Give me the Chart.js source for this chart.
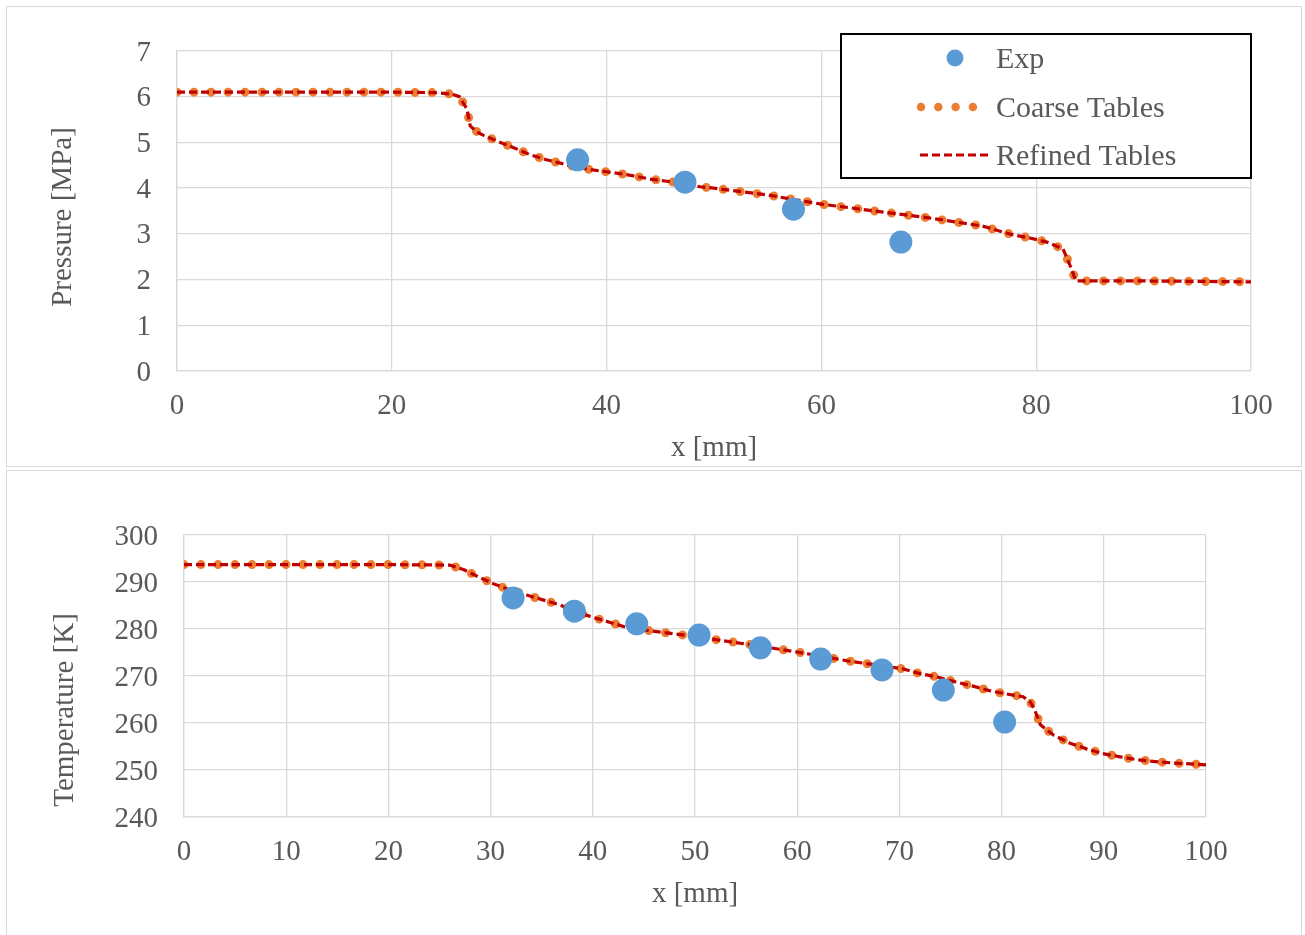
<!DOCTYPE html>
<html>
<head>
<meta charset="utf-8">
<script src="https://cdn.jsdelivr.net/npm/chart.js@4.4.0/dist/chart.umd.min.js"></script>
<style>
  body { margin: 0; background: #fff; overflow: hidden; }
  .frame { position: absolute; left: 6px; width: 1294px; border: 1px solid #d9d9d9; background: #fff; }
  #f1 { top: 6px; height: 459px; }
  #f2 { top: 470px; height: 470px; }
  canvas { display: block; }
</style>
</head>
<body>
<div class="frame" id="f1"><canvas id="pChart" width="1294" height="459"></canvas></div>
<div class="frame" id="f2"><canvas id="tChart" width="1294" height="464"></canvas></div>
<script>
// ---- pressure profile (x [mm], P [MPa]) ----
const pX       = [0, 5, 10, 15, 20, 24, 25.5, 26.3, 27.0, 27.3, 28.0, 28.5, 29.8, 31.4, 32.9, 34.4, 36.0, 37.5, 39.3, 40.9, 42.5, 44.0, 45.6, 47.2, 48.7, 50, 55, 60, 65, 70, 75, 77.8, 79.4, 81.0, 82.5, 83.1, 83.7, 85.2, 90, 95, 100];
const pCoarse  = [6.10, 6.10, 6.10, 6.10, 6.10, 6.09, 6.06, 6.00, 5.73, 5.36, 5.22, 5.16, 5.03, 4.88, 4.73, 4.62, 4.53, 4.44, 4.38, 4.33, 4.27, 4.20, 4.15, 4.10, 4.03, 4.00, 3.85, 3.65, 3.50, 3.35, 3.17, 2.98, 2.91, 2.82, 2.67, 2.34, 1.97, 1.97, 1.97, 1.96, 1.95];
const pRefined = [6.10, 6.10, 6.10, 6.10, 6.10, 6.09, 6.06, 6.00, 5.73, 5.36, 5.22, 5.16, 5.03, 4.88, 4.73, 4.62, 4.53, 4.44, 4.38, 4.33, 4.27, 4.20, 4.15, 4.10, 4.03, 4.00, 3.85, 3.65, 3.50, 3.35, 3.17, 2.98, 2.91, 2.82, 2.67, 2.34, 1.97, 1.97, 1.97, 1.96, 1.95];
const pExpX    = [37.3, 47.3, 57.4, 67.4];
const pExpY    = [4.62, 4.13, 3.54, 2.82];

// ---- temperature profile (x [mm], T [K]) ----
const tX       = [0, 10, 20, 26.0, 27.4, 28.8, 30.3, 31.9, 33.6, 35.1, 36.8, 38.4, 40.0, 41.7, 43.2, 45, 50, 55, 60, 65, 70.4, 72.0, 73.7, 75.4, 77.1, 78.8, 80.4, 82.1, 82.8, 83.2, 83.8, 85.1, 86.7, 88.3, 89.9, 91.6, 93.2, 95.0, 96.7, 98.4, 100];
const tCoarse  = [293.7, 293.7, 293.7, 293.6, 292.6, 291.1, 289.6, 288.3, 287.2, 286.2, 285.1, 283.6, 282.5, 281.4, 280.4, 279.8, 278.4, 276.8, 275.1, 273.2, 271.5, 270.5, 269.8, 268.8, 267.9, 266.9, 266.2, 265.6, 264.5, 263.0, 259.6, 257.4, 255.7, 254.5, 253.5, 252.8, 252.2, 251.8, 251.5, 251.3, 251.1];
const tRefined = [293.7, 293.7, 293.7, 293.6, 292.6, 291.1, 289.6, 288.3, 287.2, 286.2, 285.1, 283.6, 282.5, 281.4, 280.4, 279.8, 278.4, 276.8, 275.1, 273.2, 271.5, 270.5, 269.8, 268.8, 267.9, 266.9, 266.2, 265.6, 264.5, 263.0, 259.6, 257.4, 255.7, 254.5, 253.5, 252.8, 252.2, 251.8, 251.5, 251.3, 251.1];
const tExpX    = [32.2, 38.2, 44.3, 50.4, 56.4, 62.3, 68.3, 74.3, 80.3];
const tExpY    = [286.6, 283.8, 281.1, 278.7, 276.0, 273.6, 271.3, 267.0, 260.2];

const SERIES = ["Exp", "Coarse Tables", "Refined Tables"];

const FONT = "'Liberation Serif', 'Times New Roman', serif";
const TXT = "#595959";
const GRID = "#d9d9d9";

const pts = (xs, ys) => xs.map((x, i) => ({ x: x, y: ys[i] }));

function makeDatasets(x, coarse, refined, ex, ey) {
  return [
    { label: SERIES[0], data: pts(ex, ey), showLine: false, pointRadius: 11.5, pointHoverRadius: 11.5,
      backgroundColor: "#5B9BD5", borderWidth: 0, order: 0 },
    { label: SERIES[1], data: pts(x, coarse), showLine: true, pointRadius: 0, borderColor: "#ED7D31",
      borderWidth: 9, borderDash: [0, 17], borderCapStyle: "round", fill: false, order: 2 },
    { label: SERIES[2], data: pts(x, refined), showLine: true, pointRadius: 0, borderColor: "#C00000",
      borderWidth: 3.2, borderDash: [8, 4], fill: false, order: 1 },
  ];
}

// legend box drawn on the canvas, styled from the datasets
const boxLegend = {
  id: "boxLegend",
  afterDatasetsDraw(chart) {
    const ctx = chart.ctx, ds = chart.data.datasets;
    const r = chart.chartArea.right;
    const bx = r - 410, by = 27, bw = 410, bh = 144;
    ctx.save();
    ctx.fillStyle = "#fff";
    ctx.fillRect(bx, by, bw, bh);
    ctx.strokeStyle = "#000";
    ctx.lineWidth = 2;
    ctx.strokeRect(bx, by, bw, bh);
    const tx = bx + 155, rows = [by + 24, by + 73, by + 121];
    // Exp
    ctx.fillStyle = ds[0].backgroundColor;
    ctx.beginPath(); ctx.arc(bx + 114, rows[0], 8.5, 0, Math.PI * 2); ctx.fill();
    // Coarse
    ctx.strokeStyle = ds[1].borderColor;
    ctx.lineWidth = 8.5; ctx.lineCap = "round"; ctx.setLineDash([0, 17.3]);
    ctx.beginPath(); ctx.moveTo(bx + 80, rows[1]); ctx.lineTo(bx + 133, rows[1]); ctx.stroke();
    // Refined
    ctx.strokeStyle = ds[2].borderColor;
    ctx.lineWidth = 3.2; ctx.lineCap = "butt"; ctx.setLineDash([8, 4]);
    ctx.beginPath(); ctx.moveTo(bx + 79, rows[2]); ctx.lineTo(bx + 150, rows[2]); ctx.stroke();
    ctx.setLineDash([]);
    ctx.fillStyle = TXT;
    ctx.font = "30px " + FONT;
    ctx.textBaseline = "middle";
    ctx.textAlign = "left";
    ds.forEach((d, i) => ctx.fillText(d.label, tx, rows[i] + 2));
    ctx.restore();
  }
};

// y-axis title, placed like the original (not centred on the plot area)
const yTitle = {
  id: "yTitle",
  afterDraw(chart, args, opts) {
    const ctx = chart.ctx;
    ctx.save();
    ctx.translate(opts.x, opts.y);
    ctx.rotate(-Math.PI / 2);
    ctx.fillStyle = TXT;
    ctx.font = "29px " + FONT;
    ctx.textAlign = "center";
    ctx.textBaseline = "middle";
    ctx.fillText(opts.text, 0, 0);
    ctx.restore();
  }
};

function makeChart(id, cfg) {
  return new Chart(document.getElementById(id), {
    type: "scatter",
    data: { datasets: cfg.datasets },
    options: {
      responsive: false,
      animation: false,
      layout: { padding: cfg.padding },
      plugins: {
        legend: { display: false },
        tooltip: { enabled: false },
        yTitle: { text: cfg.yTitle, x: cfg.yTitleX, y: cfg.yTitleY },
      },
      scales: {
        x: {
          type: "linear", min: 0, max: 100,
          ticks: { stepSize: cfg.xStep, color: TXT, font: { family: FONT, size: 29 }, padding: 18, maxRotation: 0 },
          grid: { color: GRID, lineWidth: 1.3, drawTicks: false },
          border: { color: GRID, width: 1.3 },
          title: { display: true, text: "x [mm]", color: TXT, font: { family: FONT, size: 29, lineHeight: 1 }, padding: { top: 0, bottom: 3 } },
          afterFit: (s) => { s.height = 95; },
        },
        y: {
          min: cfg.yMin, max: cfg.yMax,
          ticks: { stepSize: cfg.yStep, color: TXT, font: { family: FONT, size: 29 }, padding: 26, labelOffset: 2 },
          grid: { color: GRID, lineWidth: 1.3, drawTicks: false },
          border: { color: GRID, width: 1.3 },
          afterFit: (s) => { s.width = cfg.yWidth; },
        },
      },
    },
    plugins: [yTitle].concat(cfg.plugins || []),
  });
}

makeChart("pChart", {
  datasets: makeDatasets(pX, pCoarse, pRefined, pExpX, pExpY),
  padding: { top: 44, right: 50, bottom: 0, left: 0 },
  xStep: 20, yMin: 0, yMax: 7, yStep: 1,
  yTitle: "Pressure [MPa]", yTitleX: 56, yTitleY: 210, yWidth: 170,
  plugins: [boxLegend],
});

makeChart("tChart", {
  datasets: makeDatasets(tX, tCoarse, tRefined, tExpX, tExpY),
  padding: { top: 64, right: 95, bottom: 23, left: 0 },
  xStep: 10, yMin: 240, yMax: 300, yStep: 10,
  yTitle: "Temperature [K]", yTitleX: 58, yTitleY: 239, yWidth: 177,
});
</script>
</body>
</html>
